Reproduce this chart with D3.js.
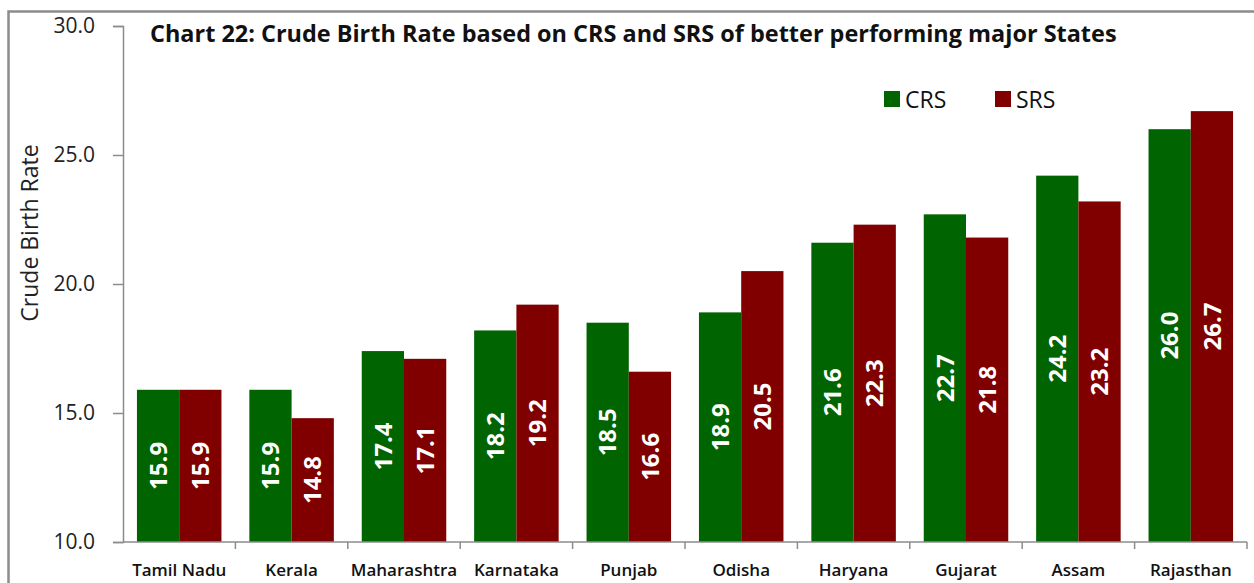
<!DOCTYPE html>
<html>
<head>
<meta charset="utf-8">
<script src="https://cdn.jsdelivr.net/npm/d3@7"></script>
<style>
  body { margin: 0; background: #fff; }
  svg { display: block; font-family: "Open Sans", Lato, sans-serif; }
</style>
</head>
<body>
<div id="chart"></div>
<script>
// data
const states = ["Tamil Nadu", "Kerala", "Maharashtra", "Karnataka", "Punjab", "Odisha", "Haryana", "Gujarat", "Assam", "Rajasthan"]
const crs = [15.9, 15.9, 17.4, 18.2, 18.5, 18.9, 21.6, 22.7, 24.2, 26.0]
const srs = [15.9, 14.8, 17.1, 19.2, 16.6, 20.5, 22.3, 21.8, 23.2, 26.7]
const seriesNames = ["CRS", "SRS"]
const seriesColors = ["#006400", "#800000"]
const yTicks = [10, 15, 20, 25, 30]

const w = 1254
const h = 583
const plotLeft = 123, plotRight = 1247, plotTop = 26, plotBottom = 542

const svg = d3.select("#chart").append("svg")
  .attr("width", w)
  .attr("height", h)

// outer frame (only top and left are visible in the picture)
svg.append("path")
  .attr("d", "M8.5," + h + " V11.5 H" + w)
  .attr("fill", "none")
  .attr("stroke", "#8c8c8c")
  .attr("stroke-width", 2.5)

const x0 = d3.scaleBand().domain(states).range([plotLeft, plotRight])
const x1 = d3.scaleBand().domain(seriesNames)
  .range([0, x0.bandwidth()]).paddingOuter(0.33).paddingInner(0)
const y = d3.scaleLinear().domain([10, 30]).range([plotBottom, plotTop])

const rows = states.map((s, i) => ({ state: s, values: [crs[i], srs[i]] }))

// bars
const groups = svg.append("g").selectAll("g")
  .data(rows)
  .enter().append("g")
  .attr("transform", d => "translate(" + x0(d.state) + ",0)")

groups.selectAll("rect")
  .data(d => d.values.map((v, k) => ({ k, v })))
  .enter().append("rect")
  .attr("x", d => x1(seriesNames[d.k]))
  .attr("width", x1.bandwidth())
  .attr("y", d => y(d.v))
  .attr("height", d => y(10) - y(d.v))
  .attr("fill", d => seriesColors[d.k])

// value labels, rotated, inside bars
groups.selectAll("text")
  .data(d => d.values.map((v, k) => ({ k, v })))
  .enter().append("text")
  .attr("transform", d => "translate(" + (x1(seriesNames[d.k]) + x1.bandwidth() / 2) + "," + ((y(d.v) + y(10)) / 2) + ") rotate(-90)")
  .attr("text-anchor", "middle")
  .attr("dy", "0.36em")
  .attr("fill", "#fff")
  .attr("font-weight", "bold")
  .attr("font-size", 24)
  .text(d => d.v.toFixed(1))

// y axis
const yAxis = d3.axisLeft(y).tickValues(yTicks).tickFormat(d3.format(".1f"))
  .tickSize(10).tickPadding(18)
const gy = svg.append("g").attr("transform", "translate(" + plotLeft + ",0)").call(yAxis)
gy.select(".domain").attr("stroke", "#8c8c8c").attr("stroke-width", 1.5)
gy.selectAll(".tick line").attr("stroke", "#8c8c8c").attr("stroke-width", 1.5)
gy.selectAll(".tick text").attr("font-size", 21).attr("fill", "#222")
  .attr("font-family", "'Open Sans', sans-serif")

// x axis: ticks at category boundaries
const gx = svg.append("g").attr("transform", "translate(0," + plotBottom + ")")
gx.append("line").attr("x1", plotLeft).attr("x2", plotRight)
  .attr("stroke", "#8c8c8c").attr("stroke-width", 1.5)
gx.selectAll("line.tk")
  .data(states)
  .enter().append("line")
  .attr("class", "tk")
  .attr("x1", d => x0(d) + x0.bandwidth()).attr("x2", d => x0(d) + x0.bandwidth())
  .attr("y1", 0).attr("y2", 7)
  .attr("stroke", "#8c8c8c").attr("stroke-width", 1.5)
gx.selectAll("text")
  .data(states)
  .enter().append("text")
  .attr("x", d => x0(d) + x0.bandwidth() / 2)
  .attr("y", 34)
  .attr("text-anchor", "middle")
  .attr("font-weight", 600)
  .attr("font-size", 17)
  .attr("fill", "#111")
  .text(d => d)

// y axis title
svg.append("text")
  .attr("transform", "translate(38,233) rotate(-90)")
  .attr("text-anchor", "middle")
  .attr("font-size", 23)
  .attr("fill", "#222")
  .text("Crude Birth Rate")

// chart title, fitted to the width it has in the picture
const title = svg.append("text")
  .attr("x", 150)
  .attr("y", 42)
  .attr("font-weight", "bold")
  .attr("font-size", 20)
  .attr("fill", "#111")
  .text("Chart 22: Crude Birth Rate based on CRS and SRS of better performing major States")
const tw = title.node().getComputedTextLength()
title.attr("font-size", 20 * 967 / tw)

// legend
const legend = svg.append("g").selectAll("g")
  .data(seriesNames)
  .enter().append("g")
  .attr("transform", (d, i) => "translate(" + (884 + i * 111) + ",91)")
legend.append("rect")
  .attr("width", 16).attr("height", 16)
  .attr("fill", (d, i) => seriesColors[i])
legend.append("text")
  .attr("x", 21).attr("y", 16.5)
  .attr("font-size", 23)
  .attr("fill", "#111")
  .text(d => d)
</script>
</body>
</html>
